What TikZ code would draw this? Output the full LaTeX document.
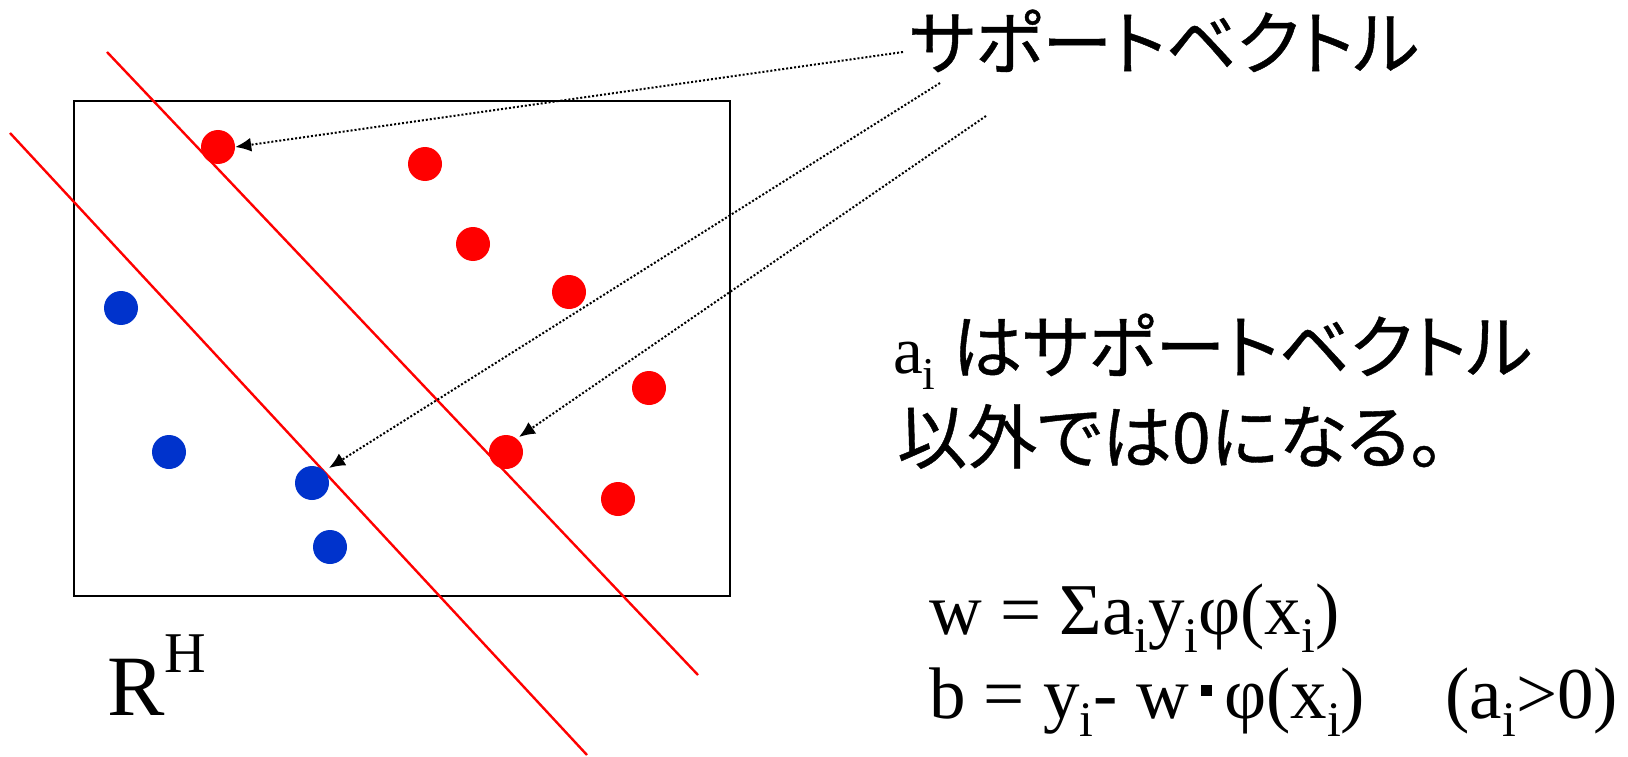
\documentclass[tikz,border=0pt]{standalone}
\usepackage{fontspec}
\usepackage{graphicx}
\setmainfont{Liberation Serif}
\newfontfamily\jp[RawFeature=+palt,FakeBold=0.6]{Noto Sans CJK JP}
\usetikzlibrary{arrows.meta}
\definecolor{dotred}{RGB}{255,0,0}
\definecolor{dotblue}{RGB}{0,51,204}
\newcommand{\si}{\raisebox{-0.25em}{\scalebox{0.68}{i}}}
\newcommand{\sqdot}{\raisebox{0.3em}{\rule{0.15em}{0.15em}}}
\tikzset{
  reddot/.style={circle,fill=dotred,minimum size=34pt,inner sep=0pt},
  bluedot/.style={circle,fill=dotblue,minimum size=34pt,inner sep=0pt},
  margin/.style={draw=dotred,line width=2.4pt},
  pointer/.style={dotted,line width=2pt,-{Latex[length=16pt,width=14pt]}},
  jptext/.style={font=\jp\fontsize{70}{80}\selectfont,inner sep=0pt},
  mtext/.style={font=\fontsize{73}{84}\selectfont,inner sep=0pt},
}
\begin{document}
\begin{tikzpicture}[x=1pt,y=-1pt]
\useasboundingbox (0,0) rectangle (1628,757);
\draw[line width=2pt] (74,101) rectangle (730,596);
\coordinate (u1) at (107,52);
\coordinate (u2) at (698,675);
\coordinate (l1) at (10,133);
\coordinate (l2) at (587,755);
\draw[margin] (u1) -- (u2);
\draw[margin] (l1) -- (l2);
\node[reddot] (r1) at (218,147) {};
\node[reddot] (r2) at (425,164) {};
\node[reddot] (r3) at (473,244) {};
\node[reddot] (r4) at (569,292) {};
\node[reddot] (r5) at (649,388) {};
\node[reddot] (r6) at (506,452) {};
\node[reddot] (r7) at (618,499) {};
\node[bluedot] (b1) at (121,308) {};
\node[bluedot] (b2) at (169,452) {};
\node[bluedot] (b3) at (312,483) {};
\node[bluedot] (b4) at (330,547) {};
\node[jptext,anchor=base west] (sv) at (909,69) {サポートベクトル};
\coordinate (s1) at (903,52);
\coordinate (s2) at (940,83);
\coordinate (s3) at (986,116);
\draw[pointer] (s1) -- (r1.east);
\draw[pointer] (s2) -- (329,468);
\draw[pointer] (s3) -- (519,437);
\node[anchor=base west,inner sep=0pt,font=\fontsize{67}{78}\selectfont] (a1) at (893,373) {a\si\ {\jp\fontsize{70}{80}\selectfont はサポートベクトル}};
\node[anchor=base west,jptext] (a2) at (897,463) {以外では0になる。};
\node[anchor=base west,mtext] (f1) at (929,634) {w = Σa\si y\si φ(x\si)};
\node[anchor=base west,mtext] (f2) at (929,718) {b = y\si- w\,\sqdot\,φ(x\si)\hspace{1.1em}(a\si>0)};
\node[anchor=base west,inner sep=0pt,font=\fontsize{86}{98}\selectfont] (rh) at (107,715) {R\raisebox{0.49em}{\scalebox{0.67}{H}}};
\end{tikzpicture}
\end{document}
